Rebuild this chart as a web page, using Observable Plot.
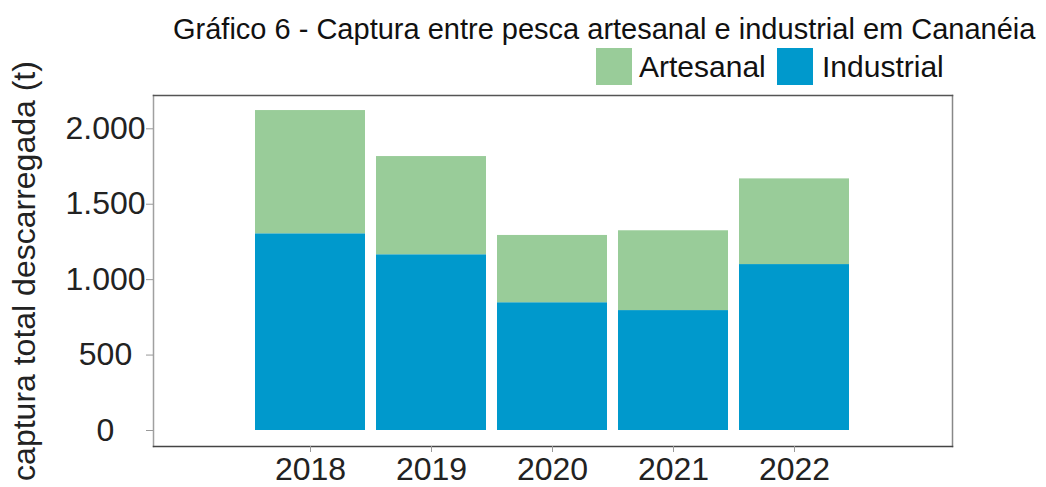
<!DOCTYPE html>
<html><head><meta charset="utf-8">
<script src="https://cdn.jsdelivr.net/npm/d3@7"></script>
<script src="https://cdn.jsdelivr.net/npm/@observablehq/plot@0.6"></script>
<style>
body{margin:0;background:#fff;font-family:"Liberation Sans",Arial,sans-serif;}
#wrap{width:1046px;height:487px;overflow:hidden;position:relative;background:#fff}
#head{position:relative;height:90px}
#title{position:absolute;left:173px;top:15px;font-size:29px;line-height:29px;white-space:nowrap;color:#111}
.sw{position:absolute;width:36px;height:37px;top:48px}
.lt{position:absolute;font-size:30px;line-height:30px;top:52px;white-space:nowrap;color:#111}
#chart svg{overflow:visible}
</style></head>
<body><div id="wrap"><div id="head"><div id="title"></div></div><div id="chart"></div></div>
<script>
const years = ["2018", "2019", "2020", "2021", "2022"];
const industrial = [1304, 1165, 847, 795, 1100];
const artesanal = [817, 651, 446, 529, 568];
const seriesNames = ["Artesanal", "Industrial"];
const seriesColors = ["#99cc99", "#0099cc"];
const yTicks = [0, 500, 1000, 1500, 2000];
const titleText = "Gráfico 6 - Captura entre pesca artesanal e industrial em Cananéia";
const yLabel = "captura total descarregada (t)";

document.getElementById("title").textContent = titleText;
const head = document.getElementById("head");
const legendPos = [{sw: 596, tx: 639}, {sw: 777, tx: 822}];
seriesNames.forEach((name, i) => {
  const s = document.createElement("div");
  s.className = "sw"; s.style.left = legendPos[i].sw + "px"; s.style.background = seriesColors[i];
  head.appendChild(s);
  const t = document.createElement("div");
  t.className = "lt"; t.style.left = legendPos[i].tx + "px"; t.textContent = name;
  head.appendChild(t);
});

const data = years.flatMap((yr, i) => [
  {year: yr, type: "Industrial", value: industrial[i]},
  {year: yr, type: "Artesanal", value: artesanal[i]}
]);
const fmt = d => d3.format(",")(d).replace(/,/g, ".");

const chart = Plot.plot({
  width: 1046, height: 397,
  marginTop: 5, marginBottom: 41, marginLeft: 153, marginRight: 94,
  style: {fontFamily: "Liberation Sans, Arial, sans-serif", overflow: "visible", background: "transparent"},
  x: {domain: years, paddingInner: 0.094, paddingOuter: 0, insetLeft: 101, insetRight: 102},
  y: {domain: [0, 2000], insetTop: 33.3, insetBottom: 16},
  color: {domain: seriesNames, range: seriesColors},
  marks: [
    Plot.barY(data, {x: "year", y: "value", fill: "type", order: ["Industrial", "Artesanal"]}),
    Plot.frame({anchor: "left", stroke: "#a0a0a0", strokeWidth: 1.5}),
    Plot.frame({anchor: "right", stroke: "#888", strokeWidth: 1.5}),
    Plot.frame({anchor: "top", stroke: "#555", strokeWidth: 1.5}),
    Plot.frame({anchor: "bottom", stroke: "#444", strokeWidth: 1.5}),
    Plot.axisY({ticks: yTicks, tickFormat: fmt, tickSize: 7, stroke: "#999", fill: "#222",
      fontSize: 32, textAnchor: "middle", tickPadding: 41,
      label: yLabel, labelArrow: "none", labelAnchor: "center", labelOffset: 141}),
    Plot.axisX({tickSize: 6, tickPadding: 5, stroke: "#999", fill: "#222", fontSize: 32, label: null})
  ]
});
document.getElementById("chart").appendChild(chart);
</script>
</body></html>
